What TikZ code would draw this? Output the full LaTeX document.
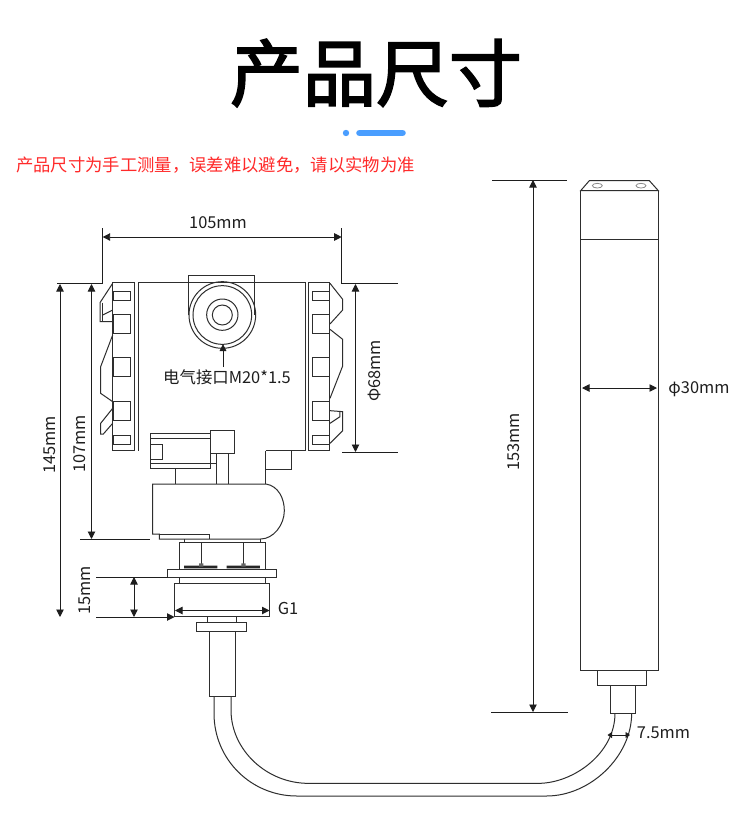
\documentclass[tikz,border=0pt]{standalone}
\usepackage{fontspec}
\setmainfont{Noto Sans CJK SC}
\newfontfamily\titlefont[FakeBold=2.4]{Noto Sans CJK SC}
\usetikzlibrary{arrows.meta}
\definecolor{ink}{HTML}{2E2E2E}
\definecolor{dimink}{HTML}{1E1E1E}
\definecolor{accent}{HTML}{4A9EFF}
\definecolor{notered}{HTML}{FF2A2A}
\tikzset{
  part/.style={draw=ink,line width=1pt,line join=miter},
  dimline/.style={draw=dimink,line width=.95pt},
  dimarrow/.style={dimline,{Triangle[length=7.5pt,width=7.5pt]}-{Triangle[length=7.5pt,width=7.5pt]}},
  dimlabel/.style={font=\fontsize{16.4}{19}\selectfont,text=dimink,inner sep=0pt},
  zoomA/.style={shift={(80,260)},x=.33333pt,y=-.33333pt},
  zoomB/.style={shift={(130,420)},x=.33333pt,y=-.33333pt},
  zoomC/.style={shift={(180,610)},x=.33333pt,y=-.33333pt},
  zoomD/.style={shift={(560,170)},x=.33333pt,y=-.33333pt},
}
\begin{document}
\begin{tikzpicture}[x=1pt,y=-1pt]
\useasboundingbox (0,0) rectangle (750,839);
\fill[white] (0,0) rectangle (750,839);
% heading
\node[inner sep=0pt,text=black] (title) at (376,73) {\titlefont\fontsize{73}{80}\selectfont 产品尺寸};
\fill[accent] (346,133) circle (3.2);
\draw[line width=6.6pt,line cap=round,color=accent] (359.5,133) -- (402.5,133);
\node[anchor=west,inner sep=0pt,text=notered] (note) at (16,165) {\fontsize{17.33}{20}\selectfont 产品尺寸为手工测量，误差难以避免，请以实物为准};

% housing
\begin{scope}[zoomA]
 \draw[part] (176,68) rectangle (677,572);
 \draw[part] (327,165) -- (327,45) -- (525,45) -- (525,165);
 \draw[part] (427,165) circle (100);
 \draw[part] (427,165) circle (88);
 \draw[part] (427,164) circle (47);
 \draw[part] (427,165) circle (30);
 % left strip
 \draw[part] (98,68) rectangle (162,572);
 \foreach \a/\b in {93/120,162/220,293/350,425/482,525/552}{\draw[part] (100,\a) rectangle (150,\b);}
 \draw[part] (98,70) -- (60,128) -- (60,185) -- (98,185);
 \draw[part] (68,128) -- (68,185); \draw[part] (68,165) -- (98,150);
 \draw[part] (98,225) -- (62,320) -- (62,400) -- (98,425);
 \draw[part] (98,425) -- (98,445) -- (62,490) -- (62,522) -- (70,522) -- (98,490);
 % right strip
 \draw[part] (686,68) rectangle (750,572);
 \foreach \a/\b in {93/120,162/220,293/350,425/482,525/552}{\draw[part] (698,\a) rectangle (750,\b);}
 \draw[part] (750,70) -- (788,118) -- (788,150) -- (750,192);
 \draw[part] (750,208) -- (788,238) -- (788,318) -- (750,415);
 \draw[part] (750,452) -- (788,455) -- (788,512) -- (750,550);
 \draw[part] (780,455) -- (780,470) -- (750,490);
\end{scope}
% lower assembly
\begin{scope}[zoomB]
 \fill[white] (26,90) rectangle (407,95);
 \draw[part,fill=white] (62,40) rectangle (240,145);
 \draw[part] (62,55) -- (240,55);
 \draw[part] (62,130) -- (260,130);
 \draw[part] (62,73) -- (98,73) -- (98,118) -- (62,118);
 \draw[part,fill=white] (240,30) rectangle (313,100);
 \draw[part] (260,100) -- (260,192) (295,100) -- (295,192) (137,145) -- (137,192);
 \draw[part] (408,92) -- (408,192) (408,148) -- (485,148) -- (485,92);
 \draw[part] (68,192) -- (408,192) .. controls (445,198) and (463,235) .. (463,272) .. controls (463,315) and (430,357) .. (392,357) -- (238,357) -- (88,357) -- (88,342) -- (68,342) -- cycle;
 \draw[part] (88,342) -- (238,342) -- (238,357);
 \draw[part] (163,357) -- (163,368) (392,357) -- (392,368);
 \draw[part] (148,447) -- (148,368) -- (408,368) -- (408,447);
 \draw[part] (213,370) -- (213,432) (340,370) -- (340,432);
 \fill[black!85] (162,437) rectangle (262,445) (290,437) rectangle (390,445);
 \fill[black!60] (207,430) rectangle (220,440) (334,430) rectangle (347,440);
 \draw[part,fill=white] (112,447) rectangle (441,472);
 \draw[part] (147,472) -- (147,490) (408,472) -- (408,490);
 \draw[part] (133,490) rectangle (420,590);
 \draw[part] (233,590) -- (233,607) (320,590) -- (320,607);
\end{scope}
% hose and lower fittings
\begin{scope}[zoomC]
 \draw[part] (49,38) rectangle (199,64);
 \draw[part] (87,64) rectangle (165,260);
 \draw[part] (102,260) -- (102,310) .. controls (102,450) and (215,558) .. (350,558) -- (1100,558) .. controls (1230,558) and (1355,440) .. (1355,310);
 \draw[part] (153,260) -- (153,300) .. controls (153,420) and (260,520) .. (385,520) -- (1075,520) .. controls (1180,520) and (1305,430) .. (1305,310);
 \draw[part] (1252,182) rectangle (1400,225);
 \draw[part] (1292,225) rectangle (1366,310);
\end{scope}
% probe
\begin{scope}[zoomD]
 \draw[part] (62,62) -- (295,62) -- (268,32) -- (88,32) -- cycle;
 \draw[black!45,line width=.8pt] (112,47) ellipse (15 and 7) (243,47) ellipse (15 and 7);
 \draw[part] (62,62) -- (62,1502) -- (295,1502) -- (295,62);
 \draw[part] (62,208) -- (295,208);
\end{scope}

% dimension references
\coordinate (wL) at (102.7,237); \coordinate (wR) at (341.7,237);
\draw[dimline] (102.7,228) -- (102.7,283.5) -- (57,283.5);
\draw[dimline] (341.7,228) -- (341.7,283.5) -- (398,283.5);
\draw[dimline] (342,452) -- (398,452);
\draw[dimline] (80,539) -- (150,539);
\draw[dimline] (96,577) -- (168,577);
\draw[dimline] (492,180) -- (567,180);
\draw[dimline] (491,712.5) -- (568,712.5);
\draw[dimarrow] (wL) -- (wR);
\coordinate (a1) at (60,284); \coordinate (a2) at (60,617);
\coordinate (b1) at (91.5,284); \coordinate (b2) at (91.5,539);
\coordinate (c1) at (134,577); \coordinate (c2) at (134,617);
\coordinate (d1) at (355.5,284); \coordinate (d2) at (355.5,452);
\coordinate (e1) at (533,180); \coordinate (e2) at (533,712);
\coordinate (f1) at (582,388); \coordinate (f2) at (657,388);
\coordinate (g1) at (175,610.5); \coordinate (g2) at (269.5,610.5);
\coordinate (h1) at (607.5,735); \coordinate (h2) at (630,735);
\coordinate (i1) at (96,617); \coordinate (i2) at (174.5,617);
\draw[dimarrow] (a1) -- (a2);
\draw[dimarrow] (b1) -- (b2);
\draw[dimarrow] (c1) -- (c2);
\draw[dimarrow] (d1) -- (d2);
\draw[dimarrow] (e1) -- (e2);
\draw[dimarrow] (f1) -- (f2);
\draw[dimarrow] (g1) -- (g2);
\draw[dimline,-{Triangle[length=7.5pt,width=7.5pt]}] (i1) -- (i2);
\draw[dimline,{Triangle[length=4.5pt,width=6pt]}-{Triangle[length=4.5pt,width=6pt]}] (h1) -- (h2);
\coordinate (el1) at (223,367); \coordinate (el2) at (223,344);
\draw[dimline,-{Triangle[length=7pt,width=6.5pt]}] (el1) -- (el2);

\node[dimlabel] (l105) at (218,222.5) {105mm};
\node[dimlabel,rotate=90] (l145) at (50,445) {145mm};
\node[dimlabel,rotate=90] (l107) at (80,444) {107mm};
\node[dimlabel,rotate=90] (l15) at (85,590.5) {15mm};
\node[dimlabel,rotate=90] (l68) at (374,371) {Φ68mm};
\node[dimlabel,rotate=90] (l153) at (514,442) {153mm};
\node[dimlabel] (l30) at (699,389) {φ30mm};
\node[dimlabel] (lg) at (288,608) {G1};
\node[dimlabel] (l75) at (663.5,733) {7.5mm};
\node[dimlabel] (lel) at (227,377) {电气接口M20*1.5};
\end{tikzpicture}
\end{document}
